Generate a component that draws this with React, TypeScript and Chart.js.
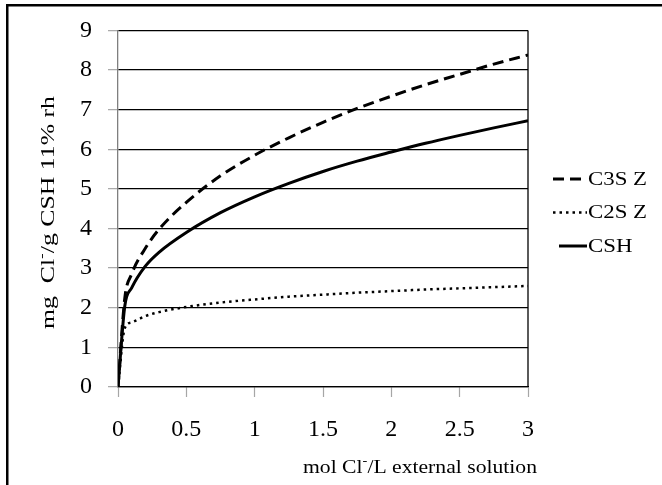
import React, { useEffect, useRef } from "react";
import { Chart, registerables } from "chart.js";

Chart.register(...registerables);

// ---- data ----
const xValues = [0, 0.05, 0.1, 0.2, 0.3, 0.5, 0.75, 1, 1.25, 1.5, 1.75, 2, 2.25, 2.5, 2.75, 3];
const c3sZ = [0, 2.25, 2.85, 3.5, 3.98, 4.66, 5.33, 5.85, 6.29, 6.68, 7.03, 7.34, 7.63, 7.89, 8.15, 8.38];
const c2sZ = [0, 1.49, 1.63, 1.79, 1.89, 2.02, 2.13, 2.21, 2.28, 2.33, 2.38, 2.42, 2.46, 2.49, 2.52, 2.55];
const csh = [0, 2.05, 2.5, 3.05, 3.4, 3.9, 4.4, 4.8, 5.14, 5.44, 5.7, 5.93, 6.15, 6.35, 6.54, 6.72];
const seriesNames = ["C3S Z", "C2S Z", "CSH"];
const xTickStep = 0.5;
const yTickStep = 1;
const xTitleParts = ["mol Cl", "-", "/L external solution"];
const yTitleParts = ["mg  Cl", "-", "/g CSH 11% rh"];

const FONT = '"Liberation Serif", "Times New Roman", serif';

function drawScaledParts(
  ctx: CanvasRenderingContext2D,
  parts: string[],
  size: number,
  target: number
) {
  const supSize = Math.round(size * 0.65);
  ctx.font = `${size}px ${FONT}`;
  const w0 = ctx.measureText(parts[0]).width;
  const w2 = ctx.measureText(parts[2]).width;
  ctx.font = `${supSize}px ${FONT}`;
  const w1 = ctx.measureText(parts[1]).width;
  const total = w0 + w1 + w2;
  const sx = target / total;
  ctx.scale(sx, 1);
  ctx.textBaseline = "alphabetic";
  ctx.textAlign = "left";
  ctx.fillStyle = "#000";
  ctx.font = `${size}px ${FONT}`;
  ctx.fillText(parts[0], 0, 0);
  ctx.font = `${supSize}px ${FONT}`;
  ctx.fillText(parts[1], w0, -size * 0.42);
  ctx.font = `${size}px ${FONT}`;
  ctx.fillText(parts[2], w0 + w1, 0);
}

const decorPlugin = {
  id: "decor",
  afterDraw(chart: any) {
    const ctx: CanvasRenderingContext2D = chart.ctx;
    const a = chart.chartArea;
    ctx.save();
    ctx.strokeStyle = "#000";
    ctx.lineWidth = 1.3;
    ctx.beginPath();
    ctx.moveTo(a.right, a.top);
    ctx.lineTo(a.right, a.bottom);
    ctx.stroke();
    ctx.fillStyle = "#000";
    ctx.fillRect(6, 4, chart.width, 2.5);
    ctx.fillRect(6, 4, 2.5, chart.height);
    ctx.restore();

    ctx.save();
    ctx.translate(303, 473);
    drawScaledParts(ctx, xTitleParts, 18, 234);
    ctx.restore();

    ctx.save();
    ctx.translate(54, 329);
    ctx.rotate(-Math.PI / 2);
    drawScaledParts(ctx, yTitleParts, 18, 233);
    ctx.restore();

    ctx.save();
    ctx.font = `18px ${FONT}`;
    const lsx = 59 / ctx.measureText("C3S Z").width;
    chart.data.datasets.forEach((ds: any, i: number) => {
      const y = 179 + i * 33.5;
      ctx.save();
      ctx.strokeStyle = ds.borderColor;
      ctx.lineWidth = ds.borderWidth;
      ctx.setLineDash(ds.borderDash || []);
      ctx.beginPath();
      ctx.moveTo(i === 2 ? 559 : 553, y);
      ctx.lineTo(587, y);
      ctx.stroke();
      ctx.restore();
      ctx.save();
      ctx.translate(588, y);
      ctx.scale(lsx, 1);
      ctx.fillStyle = "#000";
      ctx.textBaseline = "middle";
      ctx.textAlign = "left";
      ctx.font = `18px ${FONT}`;
      ctx.fillText(ds.label, 0, 1);
      ctx.restore();
    });
    ctx.restore();
  },
};

export default function App() {
  const ref = useRef<HTMLCanvasElement | null>(null);

  useEffect(() => {
    document.body.style.margin = "0";
    const canvas = ref.current!;
    const mk = (vals: number[]) => xValues.map((x, i) => ({ x, y: vals[i] }));
    const chart = new Chart(canvas, {
      type: "line",
      data: {
        datasets: [
          {
            label: seriesNames[0],
            data: mk(c3sZ),
            borderColor: "#000",
            borderWidth: 3,
            borderDash: [11, 6],
            pointRadius: 0,
            cubicInterpolationMode: "monotone",
            fill: false,
          },
          {
            label: seriesNames[1],
            data: mk(c2sZ),
            borderColor: "#000",
            borderWidth: 2.5,
            borderDash: [2.5, 4],
            pointRadius: 0,
            cubicInterpolationMode: "monotone",
            fill: false,
          },
          {
            label: seriesNames[2],
            data: mk(csh),
            borderColor: "#000",
            borderWidth: 3,
            borderDash: [],
            pointRadius: 0,
            cubicInterpolationMode: "monotone",
            fill: false,
          },
        ],
      },
      options: {
        responsive: false,
        animation: false,
        devicePixelRatio: 1,
        layout: { padding: { top: 22, right: 134, left: 0, bottom: 0 } },
        plugins: {
          legend: { display: false },
          tooltip: { enabled: false },
          title: { display: false },
        },
        scales: {
          x: {
            type: "linear",
            min: 0,
            max: 3,
            afterFit: (s: any) => {
              s.height = 98;
            },
            ticks: {
              stepSize: xTickStep,
              color: "#000",
              padding: 18,
              maxRotation: 0,
              font: { family: FONT, size: 24 },
              callback: (v: any) => String(Number(v)),
            },
            grid: {
              drawOnChartArea: false,
              drawTicks: true,
              tickLength: 10,
              tickColor: "#a6a6a6",
              tickWidth: 1.2,
            },
            border: { display: true, color: "#000", width: 1.3 },
          },
          y: {
            type: "linear",
            min: 0,
            max: 9,
            afterFit: (s: any) => {
              s.width = 118;
            },
            ticks: {
              stepSize: yTickStep,
              color: "#000",
              padding: 16,
              font: { family: FONT, size: 24 },
            },
            grid: {
              color: "#000",
              lineWidth: 1.3,
              drawTicks: true,
              tickLength: 10,
              tickColor: "#a6a6a6",
              tickWidth: 1.2,
            },
            border: { display: true, color: "#7f7f7f", width: 1.3 },
          },
        },
      },
      plugins: [decorPlugin],
    } as any);
    return () => chart.destroy();
  }, []);

  return (
    <div style={{ position: "fixed", left: 0, top: 0, width: 662, height: 485, background: "#fff" }}>
      <canvas ref={ref} width={662} height={485} style={{ display: "block" }} />
    </div>
  );
}
